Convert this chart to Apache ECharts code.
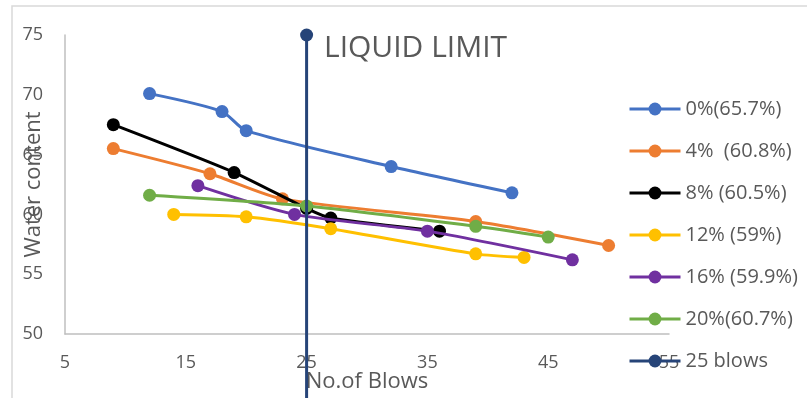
<!DOCTYPE html>
<html>
<head>
<meta charset="utf-8">
<script src="https://cdn.jsdelivr.net/npm/echarts@6/dist/echarts.min.js"></script>
<style>
html,body{margin:0;padding:0;background:#fff;}
#chart{width:807px;height:398px;}
</style>
</head>
<body>
<div id="chart"></div>
<script>
// Data
const seriesNames = ['0%(65.7%)', '4%  (60.8%)', '8% (60.5%)', '12% (59%)', '16% (59.9%)', '20%(60.7%)', '25 blows'];
const blows0  = [12, 18, 20, 32, 42];
const water0  = [70.1, 68.6, 67.0, 64.0, 61.8];
const blows4  = [9, 17, 23, 39, 50];
const water4  = [65.5, 63.4, 61.3, 59.4, 57.4];
const blows8  = [9, 19, 25, 27, 36];
const water8  = [67.5, 63.5, 60.5, 59.7, 58.6];
const blows12 = [14, 20, 27, 39, 43];
const water12 = [60.0, 59.8, 58.8, 56.7, 56.4];
const blows16 = [16, 24, 35, 47];
const water16 = [62.4, 60.0, 58.6, 56.2];
const blows20 = [12, 25, 39, 45];
const water20 = [61.6, 60.7, 59.0, 58.1];
const blowsLL = [25, 25];
const waterLL = [75, 40];
const xTicks = [5, 15, 25, 35, 45, 55];
const yTicks = [50, 55, 60, 65, 70, 75];
const colors = ['#4472C4', '#ED7D31', '#000000', '#FFC000', '#7030A0', '#70AD47', '#264478'];

const pairs = (xs, ys) => xs.map((x, i) => [x, ys[i]]);
const allData = [
  pairs(blows0, water0), pairs(blows4, water4), pairs(blows8, water8),
  pairs(blows12, water12), pairs(blows16, water16), pairs(blows20, water20),
  pairs(blowsLL, waterLL)
];

const FONT = '"Open Sans", sans-serif';
const TXT = '#595959';

const series = allData.map((d, i) => ({
  name: seriesNames[i],
  type: 'line',
  data: d,
  smooth: i === 6 ? false : 0.25,
  symbol: 'circle',
  symbolSize: 13,
  clip: i !== 6,
  z: 2 + i,
  lineStyle: { color: colors[i], width: 3 },
  itemStyle: { color: colors[i] },
  emphasis: { disabled: true },
  animation: false
}));

const chart = echarts.init(document.getElementById('chart'), null, { renderer: 'canvas' });
chart.setOption({
  animation: false,
  color: colors,
  grid: { left: 65, right: 138, top: 35, bottom: 64, containLabel: false, outerBoundsMode: 'none' },
  xAxis: {
    type: 'value',
    min: xTicks[0], max: xTicks[xTicks.length - 1], interval: 10,
    name: 'No.of Blows', nameLocation: 'middle', nameGap: 37, nameMoveOverlap: false,
    nameTextStyle: { fontFamily: FONT, fontSize: 22, color: TXT },
    axisLine: { show: true, lineStyle: { color: '#BFBFBF', width: 1.5 } },
    axisTick: { show: false },
    splitLine: { show: false },
    axisLabel: { fontFamily: FONT, fontSize: 18, color: TXT, margin: 20, showMaxLabel: true, showMinLabel: true }
  },
  yAxis: {
    type: 'value',
    min: yTicks[0], max: yTicks[yTicks.length - 1], interval: 5,
    name: 'Water content', nameLocation: 'middle', nameGap: 20, nameRotate: 90, nameMoveOverlap: false,
    nameTextStyle: { fontFamily: FONT, fontSize: 22, color: TXT },
    axisLine: { show: true, lineStyle: { color: '#BFBFBF', width: 1.5 } },
    axisTick: { show: false },
    splitLine: { show: false },
    axisLabel: { fontFamily: FONT, fontSize: 18, color: TXT, margin: 22 }
  },
  legend: {
    orient: 'vertical',
    left: 623, top: 94,
    itemWidth: 51, itemHeight: 16, itemGap: 22,
    lineStyle: { width: 3 },
    textStyle: { fontFamily: FONT, fontSize: 20, color: TXT },
    data: seriesNames
  },
  graphic: [
    { type: 'rect', z: -1, shape: { x: 12, y: 6, width: 900, height: 500 },
      style: { fill: 'none', stroke: '#D9D9D9', lineWidth: 1.5 } },
    { type: 'text', left: 324, top: 33, z: 10,
      style: { text: 'LIQUID LIMIT', font: '30px "Open Sans", sans-serif', fill: TXT } }
  ],
  series: series
});
</script>
</body>
</html>
